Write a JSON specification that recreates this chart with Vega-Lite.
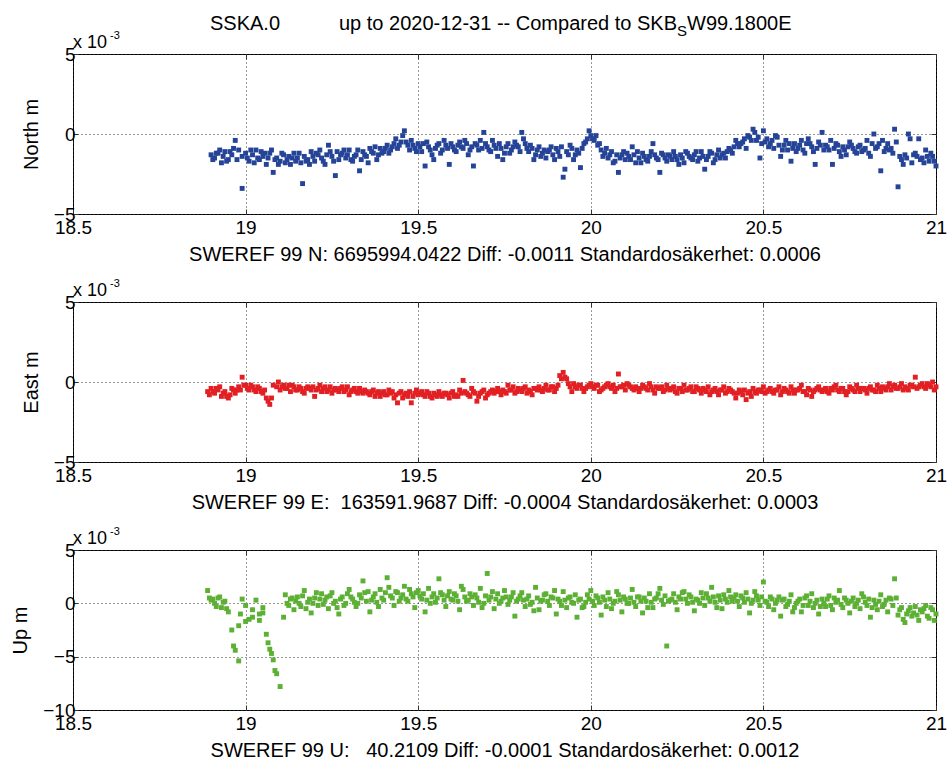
{
"$schema": "https://vega.github.io/schema/vega-lite/v6.json",
"padding": {"left": 10, "top": 13, "right": 0, "bottom": 0},
"background": "white",
"config": {
 "font": "Liberation Sans",
 "view": {"stroke": "#000", "strokeWidth": 1},
 "axis": {"domain": false, "grid": true, "gridColor": "#333", "gridDash": [1, 3], "gridWidth": 1, "tickColor": "#333", "tickSize": -5, "labelFontSize": 19, "labelColor": "#000", "labelFont": "Liberation Sans", "titleFont": "Liberation Sans", "titleFontSize": 20, "titleFontWeight": "normal", "titleColor": "#000", "labelFlush": false, "labelOverlap": false, "format": "~r"},
 "axisX": {"labelPadding": 9, "titlePadding": 7},
 "axisY": {"labelPadding": 3, "titlePadding": 12}
},
"datasets": {
 "one": [{}],
 "north": [
{"t":18.90,"v":-1.3},{"t":18.91,"v":-1.5},{"t":18.92,"v":-1.2},{"t":18.93,"v":-1.8},{"t":18.94,"v":-1.1},{"t":18.95,"v":-1.6},{"t":18.96,"v":-1.3},{"t":18.97,"v":-0.4},{"t":18.98,"v":-1.0},{"t":18.99,"v":-1.4},
{"t":19.00,"v":-1.2},{"t":19.01,"v":-1.7},{"t":19.02,"v":-1.3},{"t":19.03,"v":-1.0},{"t":19.04,"v":-1.6},{"t":19.05,"v":-1.4},{"t":19.06,"v":-1.9},{"t":19.07,"v":-1.2},{"t":19.08,"v":-2.4},{"t":19.09,"v":-1.5},
{"t":19.10,"v":-1.7},{"t":19.11,"v":-1.3},{"t":19.12,"v":-1.6},{"t":19.13,"v":-1.9},{"t":19.14,"v":-1.2},{"t":19.15,"v":-1.5},{"t":19.16,"v":-1.8},{"t":19.17,"v":-1.4},{"t":19.18,"v":-1.6},{"t":19.19,"v":-1.1},
{"t":19.20,"v":-1.7},{"t":19.21,"v":-1.3},{"t":19.22,"v":-1.5},{"t":19.23,"v":-1.9},{"t":19.24,"v":-0.7},{"t":19.25,"v":-1.4},{"t":19.26,"v":-2.6},{"t":19.27,"v":-1.6},{"t":19.28,"v":-1.2},{"t":19.29,"v":-1.5},
{"t":19.30,"v":-1.0},{"t":19.31,"v":-1.7},{"t":19.32,"v":-1.3},{"t":19.33,"v":-2.3},{"t":19.34,"v":-1.1},{"t":19.35,"v":-1.4},{"t":19.36,"v":-0.9},{"t":19.37,"v":-1.2},{"t":19.38,"v":-1.6},{"t":19.39,"v":-0.9},
{"t":19.40,"v":-1.1},{"t":19.41,"v":-0.7},{"t":19.42,"v":-1.0},{"t":19.43,"v":-0.6},{"t":19.44,"v":-0.9},{"t":19.45,"v":-0.5},{"t":19.46,"v":0.2},{"t":19.47,"v":-0.7},{"t":19.48,"v":-0.4},{"t":19.49,"v":-0.9},
{"t":19.50,"v":-0.6},{"t":19.51,"v":-1.1},{"t":19.52,"v":-2.0},{"t":19.53,"v":-0.8},{"t":19.54,"v":-1.3},{"t":19.55,"v":-0.9},{"t":19.56,"v":-0.6},{"t":19.57,"v":-1.0},{"t":19.58,"v":-0.7},{"t":19.59,"v":-1.9},
{"t":19.60,"v":-0.8},{"t":19.61,"v":-1.1},{"t":19.62,"v":-0.5},{"t":19.63,"v":-0.9},{"t":19.64,"v":-0.6},{"t":19.65,"v":-1.0},{"t":19.66,"v":-2.0},{"t":19.67,"v":-0.7},{"t":19.68,"v":-0.4},{"t":19.69,"v":0.1},
{"t":19.70,"v":-0.8},{"t":19.71,"v":-1.1},{"t":19.72,"v":-0.7},{"t":19.73,"v":-1.4},{"t":19.74,"v":-0.9},{"t":19.75,"v":-1.2},{"t":19.76,"v":-0.6},{"t":19.77,"v":-1.0},{"t":19.78,"v":-0.5},{"t":19.79,"v":-0.8},
{"t":19.80,"v":0.1},{"t":19.81,"v":-0.6},{"t":19.82,"v":-1.1},{"t":19.83,"v":-0.9},{"t":19.84,"v":-1.3},{"t":19.85,"v":-0.8},{"t":19.86,"v":-1.2},{"t":19.87,"v":-1.5},{"t":19.88,"v":-1.0},{"t":19.89,"v":-1.3},
{"t":19.90,"v":-0.9},{"t":19.91,"v":-1.4},{"t":19.92,"v":-2.7},{"t":19.93,"v":-1.1},{"t":19.94,"v":-0.7},{"t":19.95,"v":-1.6},{"t":19.96,"v":-1.0},{"t":19.97,"v":-2.1},{"t":19.98,"v":-0.6},{"t":19.99,"v":-0.3},
{"t":20.00,"v":-0.1},{"t":20.01,"v":-0.4},{"t":20.02,"v":-0.7},{"t":20.03,"v":-1.0},{"t":20.04,"v":-1.2},{"t":20.05,"v":-1.5},{"t":20.06,"v":-1.1},{"t":20.07,"v":-1.7},{"t":20.08,"v":-2.4},{"t":20.09,"v":-1.3},
{"t":20.10,"v":-1.6},{"t":20.11,"v":-1.4},{"t":20.12,"v":-0.8},{"t":20.13,"v":-1.8},{"t":20.14,"v":-1.5},{"t":20.15,"v":-1.2},{"t":20.16,"v":-1.6},{"t":20.17,"v":-1.4},{"t":20.18,"v":-0.6},{"t":20.19,"v":-1.5},
{"t":20.20,"v":-2.4},{"t":20.21,"v":-1.3},{"t":20.22,"v":-1.7},{"t":20.23,"v":-1.4},{"t":20.24,"v":-1.1},{"t":20.25,"v":-1.6},{"t":20.26,"v":-1.3},{"t":20.27,"v":-1.8},{"t":20.28,"v":-1.2},{"t":20.29,"v":-1.5},
{"t":20.30,"v":-1.3},{"t":20.31,"v":-1.7},{"t":20.32,"v":-1.1},{"t":20.33,"v":-2.2},{"t":20.34,"v":-1.4},{"t":20.35,"v":-1.2},{"t":20.36,"v":-1.6},{"t":20.37,"v":-1.0},{"t":20.38,"v":-1.3},{"t":20.39,"v":-1.5},
{"t":20.40,"v":-0.9},{"t":20.41,"v":-1.2},{"t":20.42,"v":-0.4},{"t":20.43,"v":-0.8},{"t":20.44,"v":-0.5},{"t":20.45,"v":-0.9},{"t":20.46,"v":-0.2},{"t":20.47,"v":0.3},{"t":20.48,"v":-0.4},{"t":20.49,"v":-1.5},
{"t":20.50,"v":0.2},{"t":20.51,"v":-0.3},{"t":20.52,"v":-0.6},{"t":20.53,"v":-0.9},{"t":20.54,"v":-0.2},{"t":20.55,"v":-1.4},{"t":20.56,"v":-0.7},{"t":20.57,"v":-1.0},{"t":20.58,"v":-1.7},{"t":20.59,"v":-0.6},
{"t":20.60,"v":-0.9},{"t":20.61,"v":-0.4},{"t":20.62,"v":-1.2},{"t":20.63,"v":-0.3},{"t":20.64,"v":-0.8},{"t":20.65,"v":-1.9},{"t":20.66,"v":-0.5},{"t":20.67,"v":0.1},{"t":20.68,"v":-0.7},{"t":20.69,"v":-1.0},
{"t":20.70,"v":-1.9},{"t":20.71,"v":-0.6},{"t":20.72,"v":-1.1},{"t":20.73,"v":-0.8},{"t":20.74,"v":-1.3},{"t":20.75,"v":-0.5},{"t":20.76,"v":-0.9},{"t":20.77,"v":-1.2},{"t":20.78,"v":-0.7},{"t":20.79,"v":-1.0},
{"t":20.80,"v":-0.4},{"t":20.81,"v":-1.4},{"t":20.82,"v":0.0},{"t":20.83,"v":-0.8},{"t":20.84,"v":-2.3},{"t":20.85,"v":-1.1},{"t":20.86,"v":-0.6},{"t":20.87,"v":-0.9},{"t":20.88,"v":0.3},{"t":20.89,"v":-3.3},
{"t":20.90,"v":-1.6},{"t":20.91,"v":-1.3},{"t":20.92,"v":0.0},{"t":20.93,"v":-1.8},{"t":20.94,"v":-1.2},{"t":20.95,"v":-0.3},{"t":20.96,"v":-1.5},{"t":20.97,"v":-1.0},{"t":20.98,"v":-1.7},{"t":20.99,"v":-1.4},{"t":21.00,"v":-2.0},
{"t":18.905,"v":-1.6},{"t":18.915,"v":-1.2},{"t":18.925,"v":-1.0},{"t":18.945,"v":-1.7},{"t":18.965,"v":-0.9},{"t":18.99,"v":-3.4},{"t":19.015,"v":-1.0},{"t":19.035,"v":-1.5},{"t":19.055,"v":-1.2},{"t":19.095,"v":-1.9},
{"t":19.125,"v":-1.4},{"t":19.165,"v":-3.1},{"t":19.185,"v":-1.9},{"t":19.215,"v":-1.0},{"t":19.265,"v":-1.1},{"t":19.305,"v":-1.6},{"t":19.355,"v":-1.8},{"t":19.375,"v":-0.8},{"t":19.415,"v":-1.2},{"t":19.435,"v":-0.3},
{"t":19.455,"v":-0.1},{"t":19.475,"v":-1.0},{"t":19.525,"v":-0.5},{"t":19.545,"v":-1.6},{"t":19.575,"v":-0.4},{"t":19.615,"v":-0.7},{"t":19.645,"v":-1.3},{"t":19.685,"v":-0.9},{"t":19.715,"v":-0.4},{"t":19.745,"v":-1.6},
{"t":19.775,"v":-0.8},{"t":19.805,"v":-0.3},{"t":19.835,"v":-1.6},{"t":19.865,"v":-1.0},{"t":19.895,"v":-1.6},{"t":19.925,"v":-2.2},{"t":19.955,"v":-1.3},{"t":19.975,"v":-0.9},{"t":19.995,"v":0.2},{"t":20.015,"v":-0.1},
{"t":20.035,"v":-1.4},{"t":20.065,"v":-1.8},{"t":20.105,"v":-1.2},{"t":20.145,"v":-1.8},{"t":20.175,"v":-1.1},{"t":20.215,"v":-1.5},{"t":20.255,"v":-1.9},{"t":20.285,"v":-1.4},{"t":20.315,"v":-1.5},{"t":20.355,"v":-1.8},
{"t":20.395,"v":-1.1},{"t":20.425,"v":-0.6},{"t":20.455,"v":-0.1},{"t":20.475,"v":0.1},{"t":20.505,"v":-0.5},{"t":20.535,"v":-0.1},{"t":20.565,"v":-0.4},{"t":20.595,"v":-1.1},{"t":20.625,"v":-0.6},{"t":20.655,"v":-0.9},
{"t":20.695,"v":-0.4},{"t":20.725,"v":-1.4},{"t":20.755,"v":-0.7},{"t":20.785,"v":-1.1},{"t":20.815,"v":-0.6},{"t":20.845,"v":-0.4},{"t":20.875,"v":-1.2},{"t":20.905,"v":-1.9},{"t":20.925,"v":-0.3},{"t":20.945,"v":-1.4},
{"t":20.965,"v":-1.8},{"t":20.985,"v":-1.2},
{"t":18.935,"v":-1.4},{"t":18.955,"v":-1.1},{"t":18.975,"v":-1.6},{"t":19.005,"v":-1.5},{"t":19.025,"v":-1.8},{"t":19.045,"v":-1.1},{"t":19.065,"v":-1.5},{"t":19.075,"v":-1.0},{"t":19.085,"v":-1.6},{"t":19.105,"v":-1.2},
{"t":19.115,"v":-1.8},{"t":19.135,"v":-1.5},{"t":19.145,"v":-1.7},{"t":19.155,"v":-1.2},{"t":19.175,"v":-1.7},{"t":19.195,"v":-1.4},{"t":19.205,"v":-1.2},{"t":19.225,"v":-1.7},{"t":19.235,"v":-1.3},{"t":19.245,"v":-1.1},
{"t":19.255,"v":-1.7},{"t":19.275,"v":-1.3},{"t":19.285,"v":-1.0},{"t":19.295,"v":-1.3},{"t":19.315,"v":-1.4},{"t":19.325,"v":-1.0},{"t":19.335,"v":-1.6},{"t":19.345,"v":-1.3},{"t":19.365,"v":-1.1},{"t":19.385,"v":-1.3},
{"t":19.395,"v":-1.2},{"t":19.405,"v":-0.9},{"t":19.425,"v":-0.8},{"t":19.445,"v":-0.7},{"t":19.465,"v":-0.5},{"t":19.485,"v":-0.7},{"t":19.495,"v":-1.1},{"t":19.505,"v":-0.8},{"t":19.515,"v":-0.6},{"t":19.535,"v":-1.0},
{"t":19.555,"v":-0.7},{"t":19.565,"v":-1.2},{"t":19.585,"v":-0.9},{"t":19.595,"v":-0.6},{"t":19.605,"v":-1.0},{"t":19.625,"v":-0.8},{"t":19.635,"v":-0.4},{"t":19.655,"v":-0.8},{"t":19.665,"v":-0.6},{"t":19.675,"v":-1.0},
{"t":19.695,"v":-0.6},{"t":19.705,"v":-1.0},{"t":19.725,"v":-0.9},{"t":19.735,"v":-0.6},{"t":19.755,"v":-0.8},{"t":19.765,"v":-1.2},{"t":19.785,"v":-0.7},{"t":19.795,"v":-1.1},{"t":19.815,"v":-0.9},{"t":19.825,"v":-0.7},
{"t":19.845,"v":-1.0},{"t":19.855,"v":-1.4},{"t":19.875,"v":-1.1},{"t":19.885,"v":-0.8},{"t":19.905,"v":-1.1},{"t":19.915,"v":-0.8},{"t":19.935,"v":-1.3},{"t":19.945,"v":-0.9},{"t":19.965,"v":-1.2},{"t":19.985,"v":-0.5},
{"t":20.005,"v":-0.3},{"t":20.025,"v":-0.6},{"t":20.045,"v":-0.9},{"t":20.055,"v":-1.3},{"t":20.075,"v":-1.3},{"t":20.085,"v":-1.5},{"t":20.095,"v":-1.1},{"t":20.115,"v":-1.6},{"t":20.125,"v":-1.3},{"t":20.135,"v":-1.1},
{"t":20.155,"v":-1.4},{"t":20.165,"v":-1.7},{"t":20.185,"v":-1.3},{"t":20.195,"v":-1.6},{"t":20.205,"v":-1.2},{"t":20.225,"v":-1.3},{"t":20.235,"v":-1.6},{"t":20.245,"v":-1.4},{"t":20.265,"v":-1.5},{"t":20.275,"v":-1.1},
{"t":20.295,"v":-1.6},{"t":20.305,"v":-1.1},{"t":20.325,"v":-1.4},{"t":20.335,"v":-1.6},{"t":20.345,"v":-1.1},{"t":20.365,"v":-1.3},{"t":20.375,"v":-1.5},{"t":20.385,"v":-1.2},{"t":20.405,"v":-1.0},{"t":20.415,"v":-0.8},
{"t":20.435,"v":-0.6},{"t":20.445,"v":-0.3},{"t":20.465,"v":-0.4},{"t":20.485,"v":-0.2},{"t":20.495,"v":-0.6},{"t":20.515,"v":-0.8},{"t":20.525,"v":-0.4},{"t":20.545,"v":-0.7},{"t":20.555,"v":-1.0},{"t":20.575,"v":-0.6},
{"t":20.585,"v":-0.9},{"t":20.605,"v":-0.7},{"t":20.615,"v":-1.0},{"t":20.635,"v":-0.6},{"t":20.645,"v":-1.1},{"t":20.665,"v":-0.7},{"t":20.675,"v":-1.0},{"t":20.685,"v":-0.8},{"t":20.705,"v":-0.9},{"t":20.715,"v":-0.7},
{"t":20.735,"v":-1.0},{"t":20.745,"v":-0.8},{"t":20.765,"v":-1.1},{"t":20.775,"v":-0.8},{"t":20.795,"v":-0.9},{"t":20.805,"v":-1.2},{"t":20.825,"v":-0.9},{"t":20.835,"v":-0.6},{"t":20.855,"v":-0.9},{"t":20.865,"v":-1.0},
{"t":20.885,"v":-0.5},{"t":20.895,"v":-1.4},{"t":20.915,"v":-1.5},{"t":20.935,"v":-1.3},{"t":20.955,"v":-1.6},{"t":20.975,"v":-1.4},{"t":20.995,"v":-1.7}
 ],
 "east": [
{"t":18.89,"v":-0.6},{"t":18.90,"v":-0.4},{"t":18.91,"v":-0.7},{"t":18.92,"v":-0.5},{"t":18.93,"v":-0.9},{"t":18.94,"v":-0.6},{"t":18.95,"v":-1.0},{"t":18.96,"v":-0.4},{"t":18.97,"v":-0.7},{"t":18.98,"v":-0.3},{"t":18.99,"v":0.3},
{"t":19.00,"v":-0.2},{"t":19.01,"v":-0.5},{"t":19.02,"v":-0.3},{"t":19.03,"v":-0.6},{"t":19.04,"v":-0.4},{"t":19.05,"v":-0.7},{"t":19.06,"v":-1.0},{"t":19.07,"v":-1.4},{"t":19.08,"v":-0.2},{"t":19.09,"v":-0.3},
{"t":19.10,"v":-0.5},{"t":19.11,"v":-0.2},{"t":19.12,"v":-0.4},{"t":19.13,"v":-0.6},{"t":19.14,"v":-0.3},{"t":19.15,"v":-0.5},{"t":19.16,"v":-0.4},{"t":19.17,"v":-0.7},{"t":19.18,"v":-0.3},{"t":19.19,"v":-0.5},
{"t":19.20,"v":-0.9},{"t":19.21,"v":-0.4},{"t":19.22,"v":-0.6},{"t":19.23,"v":-0.3},{"t":19.24,"v":-0.5},{"t":19.25,"v":-0.7},{"t":19.26,"v":-0.4},{"t":19.27,"v":-0.6},{"t":19.28,"v":-0.3},{"t":19.29,"v":-0.5},
{"t":19.30,"v":-0.8},{"t":19.31,"v":-0.5},{"t":19.32,"v":-0.6},{"t":19.33,"v":-0.4},{"t":19.34,"v":-0.7},{"t":19.35,"v":-0.6},{"t":19.36,"v":-0.8},{"t":19.37,"v":-0.5},{"t":19.38,"v":-0.7},{"t":19.39,"v":-0.9},
{"t":19.40,"v":-0.6},{"t":19.41,"v":-0.8},{"t":19.42,"v":-0.7},{"t":19.43,"v":-1.0},{"t":19.44,"v":-1.3},{"t":19.45,"v":-0.6},{"t":19.46,"v":-0.8},{"t":19.47,"v":-0.9},{"t":19.48,"v":-1.3},{"t":19.49,"v":-0.7},
{"t":19.50,"v":-0.8},{"t":19.51,"v":-0.6},{"t":19.52,"v":-0.9},{"t":19.53,"v":-0.7},{"t":19.54,"v":-1.0},{"t":19.55,"v":-0.8},{"t":19.56,"v":-0.6},{"t":19.57,"v":-0.9},{"t":19.58,"v":-0.7},{"t":19.59,"v":-1.0},
{"t":19.60,"v":-0.6},{"t":19.61,"v":-0.8},{"t":19.62,"v":-0.5},{"t":19.63,"v":0.1},{"t":19.64,"v":-0.7},{"t":19.65,"v":-0.9},{"t":19.66,"v":-0.6},{"t":19.67,"v":-1.2},{"t":19.68,"v":-0.7},{"t":19.69,"v":-0.5},
{"t":19.70,"v":-0.8},{"t":19.71,"v":-0.6},{"t":19.72,"v":-0.7},{"t":19.73,"v":-0.4},{"t":19.74,"v":-0.8},{"t":19.75,"v":-0.6},{"t":19.76,"v":-0.2},{"t":19.77,"v":-0.5},{"t":19.78,"v":-0.7},{"t":19.79,"v":-0.4},
{"t":19.80,"v":-0.6},{"t":19.81,"v":-0.3},{"t":19.82,"v":-0.5},{"t":19.83,"v":-0.8},{"t":19.84,"v":-0.4},{"t":19.85,"v":-0.3},{"t":19.86,"v":-0.6},{"t":19.87,"v":-0.2},{"t":19.88,"v":-0.5},{"t":19.89,"v":-0.3},
{"t":19.90,"v":-0.4},{"t":19.91,"v":0.4},{"t":19.92,"v":0.6},{"t":19.93,"v":0.2},{"t":19.94,"v":-0.3},{"t":19.95,"v":-0.1},{"t":19.96,"v":-0.4},{"t":19.97,"v":-0.2},{"t":19.98,"v":-0.6},{"t":19.99,"v":-0.3},
{"t":20.00,"v":-0.1},{"t":20.01,"v":-0.4},{"t":20.02,"v":-0.2},{"t":20.03,"v":-0.5},{"t":20.04,"v":-0.3},{"t":20.05,"v":-0.1},{"t":20.06,"v":-0.4},{"t":20.07,"v":-0.6},{"t":20.08,"v":0.5},{"t":20.09,"v":-0.3},
{"t":20.10,"v":-0.5},{"t":20.11,"v":-0.2},{"t":20.12,"v":-0.4},{"t":20.13,"v":-0.3},{"t":20.14,"v":-0.6},{"t":20.15,"v":-0.2},{"t":20.16,"v":-0.4},{"t":20.17,"v":-0.1},{"t":20.18,"v":-0.5},{"t":20.19,"v":-0.3},
{"t":20.20,"v":-0.4},{"t":20.21,"v":-0.6},{"t":20.22,"v":-0.2},{"t":20.23,"v":-0.5},{"t":20.24,"v":-0.3},{"t":20.25,"v":-0.7},{"t":20.26,"v":-0.4},{"t":20.27,"v":-0.2},{"t":20.28,"v":-0.5},{"t":20.29,"v":-0.3},
{"t":20.30,"v":-0.6},{"t":20.31,"v":-0.4},{"t":20.32,"v":-0.7},{"t":20.33,"v":-0.5},{"t":20.34,"v":-0.3},{"t":20.35,"v":-0.6},{"t":20.36,"v":-0.4},{"t":20.37,"v":-0.8},{"t":20.38,"v":-0.5},{"t":20.39,"v":-0.7},
{"t":20.40,"v":-0.4},{"t":20.41,"v":-0.6},{"t":20.42,"v":-1.0},{"t":20.43,"v":-0.5},{"t":20.44,"v":-0.8},{"t":20.45,"v":-1.1},{"t":20.46,"v":-0.6},{"t":20.47,"v":-0.4},{"t":20.48,"v":-0.7},{"t":20.49,"v":-0.5},
{"t":20.50,"v":-0.3},{"t":20.51,"v":-0.6},{"t":20.52,"v":-0.4},{"t":20.53,"v":-0.7},{"t":20.54,"v":-0.5},{"t":20.55,"v":-0.8},{"t":20.56,"v":-0.4},{"t":20.57,"v":-0.6},{"t":20.58,"v":-0.3},{"t":20.59,"v":-0.7},
{"t":20.60,"v":-0.5},{"t":20.61,"v":-0.2},{"t":20.62,"v":-0.6},{"t":20.63,"v":-0.4},{"t":20.64,"v":-0.9},{"t":20.65,"v":-0.5},{"t":20.66,"v":-0.3},{"t":20.67,"v":-0.6},{"t":20.68,"v":-0.4},{"t":20.69,"v":-0.7},
{"t":20.70,"v":-0.5},{"t":20.71,"v":-0.2},{"t":20.72,"v":-0.6},{"t":20.73,"v":-0.4},{"t":20.74,"v":-0.8},{"t":20.75,"v":-0.3},{"t":20.76,"v":-0.5},{"t":20.77,"v":-0.2},{"t":20.78,"v":-0.6},{"t":20.79,"v":-0.4},
{"t":20.80,"v":-0.7},{"t":20.81,"v":-0.3},{"t":20.82,"v":-0.5},{"t":20.83,"v":-0.2},{"t":20.84,"v":-0.6},{"t":20.85,"v":-0.4},{"t":20.86,"v":-0.3},{"t":20.87,"v":-0.5},{"t":20.88,"v":-0.2},{"t":20.89,"v":-0.4},
{"t":20.90,"v":-0.1},{"t":20.91,"v":-0.3},{"t":20.92,"v":-0.5},{"t":20.93,"v":-0.2},{"t":20.94,"v":0.3},{"t":20.95,"v":-0.3},{"t":20.96,"v":-0.1},{"t":20.97,"v":-0.4},{"t":20.98,"v":-0.2},{"t":20.99,"v":0.0},{"t":21.00,"v":-0.3},
{"t":18.895,"v":-0.8},{"t":18.925,"v":-0.3},{"t":18.955,"v":-0.8},{"t":18.985,"v":-0.5},{"t":19.015,"v":-0.2},{"t":19.045,"v":-0.6},{"t":19.065,"v":-1.2},{"t":19.075,"v":-1.0},{"t":19.095,"v":0.0},{"t":19.135,"v":-0.2},
{"t":19.175,"v":-0.4},{"t":19.215,"v":-0.2},{"t":19.255,"v":-0.5},{"t":19.295,"v":-0.3},{"t":19.335,"v":-0.6},{"t":19.375,"v":-0.9},{"t":19.415,"v":-0.5},{"t":19.455,"v":-1.0},{"t":19.495,"v":-0.5},{"t":19.535,"v":-0.9},
{"t":19.575,"v":-0.7},{"t":19.615,"v":-0.9},{"t":19.655,"v":-0.4},{"t":19.695,"v":-1.0},{"t":19.735,"v":-0.6},{"t":19.775,"v":-0.3},{"t":19.815,"v":-0.7},{"t":19.855,"v":-0.5},{"t":19.895,"v":-0.6},{"t":19.915,"v":0.2},
{"t":19.945,"v":-0.6},{"t":19.985,"v":-0.4},{"t":20.025,"v":-0.6},{"t":20.065,"v":-0.2},{"t":20.105,"v":-0.1},{"t":20.145,"v":-0.4},{"t":20.185,"v":-0.7},{"t":20.225,"v":-0.4},{"t":20.265,"v":-0.6},{"t":20.305,"v":-0.3},
{"t":20.345,"v":-0.8},{"t":20.385,"v":-0.3},{"t":20.425,"v":-0.7},{"t":20.465,"v":-0.9},{"t":20.505,"v":-0.7},{"t":20.545,"v":-0.3},{"t":20.585,"v":-0.5},{"t":20.625,"v":-0.8},{"t":20.665,"v":-0.5},{"t":20.705,"v":-0.3},
{"t":20.745,"v":-0.6},{"t":20.785,"v":-0.4},{"t":20.825,"v":-0.6},{"t":20.865,"v":-0.1},{"t":20.905,"v":-0.5},{"t":20.945,"v":-0.4},{"t":20.975,"v":-0.1},{"t":20.995,"v":-0.5},
{"t":18.905,"v":-0.6},{"t":18.915,"v":-0.4},{"t":18.935,"v":-0.7},{"t":18.945,"v":-0.9},{"t":18.965,"v":-0.5},{"t":18.975,"v":-0.5},{"t":18.995,"v":-0.2},{"t":19.005,"v":-0.4},{"t":19.025,"v":-0.5},{"t":19.035,"v":-0.3},
{"t":19.055,"v":-0.5},{"t":19.105,"v":-0.3},{"t":19.115,"v":-0.4},{"t":19.125,"v":-0.2},{"t":19.145,"v":-0.5},{"t":19.155,"v":-0.3},{"t":19.165,"v":-0.6},{"t":19.185,"v":-0.4},{"t":19.195,"v":-0.3},{"t":19.205,"v":-0.5},
{"t":19.225,"v":-0.4},{"t":19.235,"v":-0.6},{"t":19.245,"v":-0.3},{"t":19.265,"v":-0.5},{"t":19.275,"v":-0.4},{"t":19.285,"v":-0.6},{"t":19.305,"v":-0.6},{"t":19.315,"v":-0.4},{"t":19.325,"v":-0.7},{"t":19.345,"v":-0.5},
{"t":19.355,"v":-0.7},{"t":19.365,"v":-0.6},{"t":19.385,"v":-0.6},{"t":19.395,"v":-0.7},{"t":19.405,"v":-0.8},{"t":19.425,"v":-0.6},{"t":19.435,"v":-0.8},{"t":19.445,"v":-0.7},{"t":19.465,"v":-0.7},{"t":19.475,"v":-0.6},
{"t":19.485,"v":-0.9},{"t":19.505,"v":-0.7},{"t":19.515,"v":-0.8},{"t":19.525,"v":-0.6},{"t":19.545,"v":-0.7},{"t":19.555,"v":-0.9},{"t":19.565,"v":-0.8},{"t":19.585,"v":-0.8},{"t":19.595,"v":-0.7},{"t":19.605,"v":-0.9},
{"t":19.625,"v":-0.7},{"t":19.635,"v":-0.6},{"t":19.645,"v":-0.8},{"t":19.665,"v":-0.7},{"t":19.675,"v":-0.9},{"t":19.685,"v":-0.6},{"t":19.705,"v":-0.7},{"t":19.715,"v":-0.5},{"t":19.725,"v":-0.6},{"t":19.745,"v":-0.5},
{"t":19.755,"v":-0.7},{"t":19.765,"v":-0.5},{"t":19.785,"v":-0.6},{"t":19.795,"v":-0.5},{"t":19.805,"v":-0.4},{"t":19.825,"v":-0.6},{"t":19.835,"v":-0.4},{"t":19.845,"v":-0.5},{"t":19.865,"v":-0.4},{"t":19.875,"v":-0.5},
{"t":19.885,"v":-0.3},{"t":19.905,"v":-0.2},{"t":19.925,"v":0.3},{"t":19.935,"v":-0.1},{"t":19.955,"v":-0.3},{"t":19.965,"v":-0.2},{"t":19.975,"v":-0.4},{"t":19.995,"v":-0.2},{"t":20.005,"v":-0.3},{"t":20.015,"v":-0.2},
{"t":20.035,"v":-0.4},{"t":20.045,"v":-0.2},{"t":20.055,"v":-0.3},{"t":20.075,"v":-0.4},{"t":20.085,"v":-0.3},{"t":20.095,"v":-0.2},{"t":20.115,"v":-0.3},{"t":20.125,"v":-0.5},{"t":20.135,"v":-0.4},{"t":20.155,"v":-0.3},
{"t":20.165,"v":-0.5},{"t":20.175,"v":-0.3},{"t":20.195,"v":-0.4},{"t":20.205,"v":-0.3},{"t":20.215,"v":-0.5},{"t":20.235,"v":-0.4},{"t":20.245,"v":-0.6},{"t":20.255,"v":-0.4},{"t":20.275,"v":-0.5},{"t":20.285,"v":-0.4},
{"t":20.295,"v":-0.6},{"t":20.315,"v":-0.5},{"t":20.325,"v":-0.4},{"t":20.335,"v":-0.6},{"t":20.355,"v":-0.5},{"t":20.365,"v":-0.6},{"t":20.375,"v":-0.5},{"t":20.395,"v":-0.6},{"t":20.405,"v":-0.5},{"t":20.415,"v":-0.7},
{"t":20.435,"v":-0.6},{"t":20.445,"v":-0.5},{"t":20.455,"v":-0.7},{"t":20.475,"v":-0.6},{"t":20.485,"v":-0.5},{"t":20.495,"v":-0.6},{"t":20.515,"v":-0.5},{"t":20.525,"v":-0.6},{"t":20.535,"v":-0.5},{"t":20.555,"v":-0.6},
{"t":20.565,"v":-0.5},{"t":20.575,"v":-0.7},{"t":20.595,"v":-0.5},{"t":20.605,"v":-0.4},{"t":20.615,"v":-0.6},{"t":20.635,"v":-0.5},{"t":20.645,"v":-0.6},{"t":20.655,"v":-0.4},{"t":20.675,"v":-0.5},{"t":20.685,"v":-0.6},
{"t":20.695,"v":-0.4},{"t":20.715,"v":-0.5},{"t":20.725,"v":-0.4},{"t":20.735,"v":-0.6},{"t":20.755,"v":-0.4},{"t":20.765,"v":-0.6},{"t":20.775,"v":-0.4},{"t":20.795,"v":-0.5},{"t":20.805,"v":-0.4},{"t":20.815,"v":-0.5},
{"t":20.835,"v":-0.4},{"t":20.845,"v":-0.3},{"t":20.855,"v":-0.5},{"t":20.875,"v":-0.3},{"t":20.885,"v":-0.4},{"t":20.895,"v":-0.3},{"t":20.915,"v":-0.4},{"t":20.925,"v":-0.2},{"t":20.935,"v":-0.3},{"t":20.955,"v":-0.2},
{"t":20.965,"v":-0.3},{"t":20.985,"v":-0.3}
 ],
 "up": [
{"t":18.89,"v":1.2},{"t":18.90,"v":0.3},{"t":18.91,"v":0.0},{"t":18.92,"v":0.5},{"t":18.93,"v":-0.4},{"t":18.94,"v":0.2},{"t":18.95,"v":-0.8},{"t":18.96,"v":-2.5},{"t":18.965,"v":-4.0},{"t":18.97,"v":-4.4},{"t":18.98,"v":-5.4},
{"t":18.985,"v":-1.0},{"t":18.99,"v":0.4},{"t":19.00,"v":-0.2},{"t":19.01,"v":-1.5},{"t":19.02,"v":-0.6},{"t":19.03,"v":0.3},{"t":19.04,"v":-1.0},{"t":19.05,"v":-0.4},
{"t":18.98,"v":-2.1},{"t":19.00,"v":-1.7},{"t":19.02,"v":-1.3},{"t":19.04,"v":-1.6},{"t":19.05,"v":-0.9},
{"t":19.06,"v":-2.9},{"t":19.065,"v":-3.7},{"t":19.07,"v":-4.3},{"t":19.075,"v":-4.7},{"t":19.08,"v":-5.3},{"t":19.085,"v":-6.3},{"t":19.09,"v":-6.6},{"t":19.10,"v":-7.8},
{"t":19.11,"v":-1.3},{"t":19.12,"v":0.0},{"t":19.13,"v":0.4},{"t":19.14,"v":-0.6},{"t":19.15,"v":0.6},{"t":19.16,"v":-0.3},{"t":19.17,"v":1.2},{"t":19.18,"v":0.1},{"t":19.19,"v":-0.9},
{"t":19.20,"v":0.5},{"t":19.21,"v":-0.2},{"t":19.22,"v":0.9},{"t":19.23,"v":0.3},{"t":19.24,"v":-0.5},{"t":19.25,"v":1.0},{"t":19.26,"v":0.2},{"t":19.27,"v":-1.0},{"t":19.28,"v":0.6},{"t":19.29,"v":0.0},
{"t":19.30,"v":1.3},{"t":19.31,"v":0.4},{"t":19.32,"v":-0.3},{"t":19.33,"v":0.8},{"t":19.34,"v":2.1},{"t":19.35,"v":0.2},{"t":19.36,"v":-0.8},{"t":19.37,"v":0.6},{"t":19.38,"v":0.1},{"t":19.39,"v":1.3},
{"t":19.40,"v":0.3},{"t":19.41,"v":2.4},{"t":19.42,"v":0.7},{"t":19.43,"v":-0.2},{"t":19.44,"v":1.0},{"t":19.45,"v":0.5},{"t":19.46,"v":1.6},{"t":19.47,"v":0.2},{"t":19.48,"v":0.9},{"t":19.49,"v":-0.4},
{"t":19.50,"v":1.2},{"t":19.51,"v":0.4},{"t":19.52,"v":-0.8},{"t":19.53,"v":1.4},{"t":19.54,"v":0.6},{"t":19.55,"v":0.1},{"t":19.56,"v":2.3},{"t":19.57,"v":0.8},{"t":19.58,"v":-0.3},{"t":19.59,"v":1.1},
{"t":19.60,"v":0.3},{"t":19.61,"v":0.7},{"t":19.62,"v":-0.6},{"t":19.63,"v":1.3},{"t":19.64,"v":0.2},{"t":19.65,"v":0.9},{"t":19.66,"v":-0.2},{"t":19.67,"v":0.5},{"t":19.68,"v":1.4},{"t":19.69,"v":0.0},
{"t":19.70,"v":2.8},{"t":19.71,"v":0.6},{"t":19.72,"v":-0.5},{"t":19.73,"v":0.9},{"t":19.74,"v":0.2},{"t":19.75,"v":1.2},{"t":19.76,"v":-0.1},{"t":19.77,"v":0.6},{"t":19.78,"v":-1.2},{"t":19.79,"v":0.4},
{"t":19.80,"v":1.0},{"t":19.81,"v":-0.3},{"t":19.82,"v":0.7},{"t":19.83,"v":0.1},{"t":19.84,"v":1.5},{"t":19.85,"v":-0.6},{"t":19.86,"v":0.3},{"t":19.87,"v":0.9},{"t":19.88,"v":-0.2},{"t":19.89,"v":0.5},
{"t":19.90,"v":-1.0},{"t":19.91,"v":0.2},{"t":19.92,"v":1.1},{"t":19.93,"v":-0.4},{"t":19.94,"v":0.6},{"t":19.95,"v":0.0},{"t":19.96,"v":-1.3},{"t":19.97,"v":0.4},{"t":19.98,"v":-0.3},{"t":19.99,"v":0.8},
{"t":20.00,"v":1.2},{"t":20.01,"v":-0.2},{"t":20.02,"v":0.5},{"t":20.03,"v":-1.1},{"t":20.04,"v":0.3},{"t":20.05,"v":1.0},{"t":20.06,"v":-0.5},{"t":20.07,"v":0.2},{"t":20.08,"v":0.8},{"t":20.09,"v":-0.8},
{"t":20.10,"v":0.4},{"t":20.11,"v":0.0},{"t":20.12,"v":1.3},{"t":20.13,"v":-0.3},{"t":20.14,"v":0.6},{"t":20.15,"v":-0.9},{"t":20.16,"v":0.2},{"t":20.17,"v":0.9},{"t":20.18,"v":-0.4},{"t":20.19,"v":0.5},
{"t":20.20,"v":1.4},{"t":20.21,"v":-0.1},{"t":20.22,"v":-4.0},{"t":20.23,"v":0.3},{"t":20.24,"v":0.9},{"t":20.25,"v":-0.6},{"t":20.26,"v":0.4},{"t":20.27,"v":1.1},{"t":20.28,"v":0.0},{"t":20.29,"v":0.6},
{"t":20.30,"v":-0.7},{"t":20.31,"v":0.3},{"t":20.32,"v":1.0},{"t":20.33,"v":-0.2},{"t":20.34,"v":0.5},{"t":20.35,"v":1.5},{"t":20.36,"v":0.1},{"t":20.37,"v":0.7},{"t":20.38,"v":-0.5},{"t":20.39,"v":0.4},
{"t":20.40,"v":1.2},{"t":20.41,"v":0.2},{"t":20.42,"v":0.8},{"t":20.43,"v":-0.3},{"t":20.44,"v":0.5},{"t":20.45,"v":1.0},{"t":20.46,"v":-0.9},{"t":20.47,"v":0.3},{"t":20.48,"v":0.7},{"t":20.49,"v":-0.2},
{"t":20.50,"v":2.0},{"t":20.51,"v":0.1},{"t":20.52,"v":0.6},{"t":20.53,"v":-0.6},{"t":20.54,"v":0.3},{"t":20.55,"v":-1.2},{"t":20.56,"v":0.4},{"t":20.57,"v":-0.1},{"t":20.58,"v":0.8},{"t":20.59,"v":-0.4},
{"t":20.60,"v":0.2},{"t":20.61,"v":-0.8},{"t":20.62,"v":0.5},{"t":20.63,"v":-0.2},{"t":20.64,"v":0.9},{"t":20.65,"v":0.0},{"t":20.66,"v":-1.0},{"t":20.67,"v":0.4},{"t":20.68,"v":-0.3},{"t":20.69,"v":0.7},
{"t":20.70,"v":-0.6},{"t":20.71,"v":0.1},{"t":20.72,"v":1.2},{"t":20.73,"v":-0.4},{"t":20.74,"v":0.3},{"t":20.75,"v":-0.9},{"t":20.76,"v":0.5},{"t":20.77,"v":0.0},{"t":20.78,"v":-0.5},{"t":20.79,"v":0.6},
{"t":20.80,"v":-0.2},{"t":20.81,"v":-1.3},{"t":20.82,"v":0.3},{"t":20.83,"v":-0.6},{"t":20.84,"v":0.8},{"t":20.85,"v":-0.1},{"t":20.86,"v":-0.8},{"t":20.87,"v":0.4},{"t":20.88,"v":2.3},{"t":20.89,"v":-1.1},
{"t":20.90,"v":-0.4},{"t":20.91,"v":-1.8},{"t":20.92,"v":-0.7},{"t":20.93,"v":-1.2},{"t":20.94,"v":-0.3},{"t":20.95,"v":-1.6},{"t":20.96,"v":-0.8},{"t":20.97,"v":-0.2},{"t":20.98,"v":-1.4},{"t":20.99,"v":-0.6},{"t":21.00,"v":-1.0},
{"t":18.895,"v":0.5},{"t":18.905,"v":0.4},{"t":18.915,"v":-0.3},{"t":18.925,"v":0.6},{"t":18.935,"v":0.1},{"t":18.945,"v":-0.5},
{"t":19.115,"v":0.8},{"t":19.145,"v":0.2},{"t":19.175,"v":-0.5},{"t":19.205,"v":1.0},{"t":19.235,"v":0.6},{"t":19.265,"v":-0.4},{"t":19.295,"v":0.9},{"t":19.325,"v":0.0},{"t":19.355,"v":1.1},{"t":19.385,"v":-0.3},
{"t":19.415,"v":1.5},{"t":19.445,"v":0.2},{"t":19.475,"v":1.3},{"t":19.505,"v":0.7},{"t":19.535,"v":0.0},{"t":19.565,"v":1.0},{"t":19.595,"v":0.4},{"t":19.625,"v":1.6},{"t":19.655,"v":0.6},{"t":19.685,"v":-0.4},
{"t":19.715,"v":1.1},{"t":19.745,"v":0.5},{"t":19.775,"v":1.0},{"t":19.805,"v":0.3},{"t":19.835,"v":-0.7},{"t":19.865,"v":0.8},{"t":19.895,"v":1.2},{"t":19.925,"v":0.3},{"t":19.955,"v":0.8},{"t":19.985,"v":0.1},
{"t":20.015,"v":0.7},{"t":20.045,"v":-0.3},{"t":20.075,"v":1.1},{"t":20.105,"v":0.0},{"t":20.135,"v":0.6},{"t":20.165,"v":-0.4},{"t":20.195,"v":0.9},{"t":20.235,"v":0.4},{"t":20.265,"v":1.0},{"t":20.295,"v":0.1},
{"t":20.335,"v":0.9},{"t":20.365,"v":-0.4},{"t":20.405,"v":0.6},{"t":20.445,"v":0.1},{"t":20.475,"v":1.1},{"t":20.515,"v":-0.3},{"t":20.545,"v":0.6},{"t":20.585,"v":-0.8},{"t":20.625,"v":0.7},{"t":20.665,"v":-0.3},
{"t":20.705,"v":0.5},{"t":20.745,"v":0.0},{"t":20.785,"v":0.9},{"t":20.825,"v":-0.1},{"t":20.865,"v":0.5},{"t":20.905,"v":-1.5},{"t":20.935,"v":-0.9},{"t":20.965,"v":-0.5},{"t":20.995,"v":-1.6},
{"t":19.125,"v":-0.2},{"t":19.135,"v":0.5},{"t":19.155,"v":0.0},{"t":19.165,"v":0.7},{"t":19.185,"v":0.4},{"t":19.195,"v":0.0},{"t":19.215,"v":0.4},{"t":19.225,"v":-0.1},{"t":19.245,"v":0.7},{"t":19.255,"v":0.0},
{"t":19.275,"v":0.4},{"t":19.285,"v":-0.2},{"t":19.305,"v":0.6},{"t":19.315,"v":0.1},{"t":19.335,"v":0.5},{"t":19.345,"v":1.0},{"t":19.365,"v":0.3},{"t":19.375,"v":0.9},{"t":19.395,"v":0.5},{"t":19.405,"v":1.0},
{"t":19.425,"v":0.5},{"t":19.435,"v":1.1},{"t":19.455,"v":0.8},{"t":19.465,"v":0.4},{"t":19.485,"v":0.6},{"t":19.495,"v":1.0},{"t":19.515,"v":0.9},{"t":19.525,"v":0.3},{"t":19.545,"v":0.9},{"t":19.555,"v":0.5},
{"t":19.575,"v":0.3},{"t":19.585,"v":0.7},{"t":19.605,"v":0.9},{"t":19.615,"v":0.2},{"t":19.635,"v":0.6},{"t":19.645,"v":0.3},{"t":19.665,"v":0.8},{"t":19.675,"v":0.1},{"t":19.695,"v":0.7},{"t":19.705,"v":0.3},
{"t":19.725,"v":0.4},{"t":19.735,"v":0.0},{"t":19.755,"v":0.6},{"t":19.765,"v":0.3},{"t":19.785,"v":0.2},{"t":19.795,"v":0.7},{"t":19.815,"v":0.4},{"t":19.825,"v":-0.1},{"t":19.845,"v":0.5},{"t":19.855,"v":0.2},
{"t":19.875,"v":0.2},{"t":19.885,"v":0.6},{"t":19.905,"v":0.4},{"t":19.915,"v":-0.2},{"t":19.935,"v":0.5},{"t":19.945,"v":0.1},{"t":19.965,"v":0.3},{"t":19.975,"v":-0.4},{"t":19.995,"v":0.4},{"t":20.005,"v":0.2},
{"t":20.025,"v":0.1},{"t":20.035,"v":0.6},{"t":20.055,"v":0.4},{"t":20.065,"v":0.0},{"t":20.085,"v":0.3},{"t":20.095,"v":0.6},{"t":20.115,"v":0.5},{"t":20.125,"v":0.1},{"t":20.145,"v":0.2},{"t":20.155,"v":0.5},
{"t":20.175,"v":0.1},{"t":20.185,"v":0.4},{"t":20.205,"v":0.3},{"t":20.215,"v":0.7},{"t":20.225,"v":0.2},{"t":20.245,"v":0.1},{"t":20.255,"v":0.6},{"t":20.275,"v":0.4},{"t":20.285,"v":0.8},{"t":20.305,"v":0.4},
{"t":20.315,"v":0.0},{"t":20.325,"v":0.5},{"t":20.345,"v":0.2},{"t":20.355,"v":0.6},{"t":20.375,"v":0.3},{"t":20.385,"v":0.8},{"t":20.395,"v":0.1},{"t":20.415,"v":0.5},{"t":20.425,"v":0.2},{"t":20.435,"v":0.7},
{"t":20.455,"v":0.4},{"t":20.465,"v":0.0},{"t":20.485,"v":0.3},{"t":20.495,"v":0.6},{"t":20.505,"v":0.2},{"t":20.525,"v":0.4},{"t":20.535,"v":0.0},{"t":20.555,"v":0.3},{"t":20.565,"v":-0.3},{"t":20.575,"v":0.2},
{"t":20.595,"v":0.0},{"t":20.605,"v":0.4},{"t":20.615,"v":-0.2},{"t":20.635,"v":0.2},{"t":20.645,"v":-0.4},{"t":20.655,"v":0.3},{"t":20.675,"v":0.0},{"t":20.685,"v":0.4},{"t":20.695,"v":-0.2},{"t":20.715,"v":0.3},
{"t":20.725,"v":-0.1},{"t":20.735,"v":0.5},{"t":20.755,"v":0.2},{"t":20.765,"v":-0.3},{"t":20.775,"v":0.3},{"t":20.795,"v":0.1},{"t":20.805,"v":0.4},{"t":20.815,"v":-0.4},{"t":20.835,"v":0.2},{"t":20.845,"v":-0.3},
{"t":20.855,"v":0.3},{"t":20.875,"v":-0.2},{"t":20.885,"v":0.5},{"t":20.895,"v":-0.6},{"t":20.915,"v":-1.0},{"t":20.925,"v":-0.4},{"t":20.945,"v":-1.1},{"t":20.955,"v":-0.6},{"t":20.975,"v":-1.2},{"t":20.985,"v":-0.4}
 ]
},
"bounds": "flush",
"spacing": 88,
"vconcat": [
 {
  "width": 863, "height": 160,
  "layer": [
   {"data": {"name": "north"},
    "mark": {"type": "point", "shape": "square", "filled": true, "size": 24, "opacity": 1, "color": "#254498"},
    "encoding": {
     "x": {"field": "t", "type": "quantitative", "scale": {"domain": [18.5, 21], "nice": false, "zero": false}, "axis": {"values": [18.5, 19, 19.5, 20, 20.5, 21], "title": "SWEREF 99 N: 6695994.0422 Diff: -0.0011 Standardosäkerhet: 0.0006"}},
     "y": {"field": "v", "type": "quantitative", "scale": {"domain": [-5, 5], "nice": false}, "axis": {"values": [-5, 0, 5], "title": "North m"}}
    }},
   {"data": {"name": "one"},
    "mark": {"type": "text", "text": "x 10", "align": "left", "baseline": "alphabetic", "dy": -6, "fontSize": 18, "color": "#000"},
    "encoding": {
     "x": {"datum": 18.5, "type": "quantitative", "axis": {"orient": "top", "labels": false, "grid": false, "title": null, "values": [18.5, 19, 19.5, 20, 20.5, 21]}},
     "y": {"datum": 5, "type": "quantitative", "axis": {"orient": "right", "labels": false, "grid": false, "title": null, "values": [-5, 0, 5]}}
    }},
   {"data": {"name": "one"},
    "mark": {"type": "text", "text": "-3", "align": "left", "baseline": "alphabetic", "dx": 37, "dy": -15, "fontSize": 11, "color": "#000"},
    "encoding": {"x": {"datum": 18.5, "type": "quantitative", "axis": null}, "y": {"datum": 5, "type": "quantitative", "axis": null}}},
   {"data": {"name": "one"},
    "mark": {"type": "text", "text": "SSKA.0", "align": "left", "baseline": "alphabetic", "dx": 137, "dy": -24, "fontSize": 20, "color": "#000"},
    "encoding": {"x": {"datum": 18.5, "type": "quantitative", "axis": null}, "y": {"datum": 5, "type": "quantitative", "axis": null}}},
   {"data": {"name": "one"},
    "mark": {"type": "text", "text": "up to 2020-12-31 -- Compared to SKB", "align": "left", "baseline": "alphabetic", "dx": 266, "dy": -24, "fontSize": 20, "color": "#000"},
    "encoding": {"x": {"datum": 18.5, "type": "quantitative", "axis": null}, "y": {"datum": 5, "type": "quantitative", "axis": null}}},
   {"data": {"name": "one"},
    "mark": {"type": "text", "text": "S", "align": "left", "baseline": "alphabetic", "dx": 604, "dy": -18, "fontSize": 15, "color": "#000"},
    "encoding": {"x": {"datum": 18.5, "type": "quantitative", "axis": null}, "y": {"datum": 5, "type": "quantitative", "axis": null}}},
   {"data": {"name": "one"},
    "mark": {"type": "text", "text": "W99.1800E", "align": "left", "baseline": "alphabetic", "dx": 614, "dy": -24, "fontSize": 20, "color": "#000"},
    "encoding": {"x": {"datum": 18.5, "type": "quantitative", "axis": null}, "y": {"datum": 5, "type": "quantitative", "axis": null}}}
  ],
  "resolve": {"axis": {"x": "independent", "y": "independent"}}
 },
 {
  "width": 863, "height": 160,
  "layer": [
   {"data": {"name": "east"},
    "mark": {"type": "point", "shape": "square", "filled": true, "size": 24, "opacity": 1, "color": "#e22024"},
    "encoding": {
     "x": {"field": "t", "type": "quantitative", "scale": {"domain": [18.5, 21], "nice": false, "zero": false}, "axis": {"values": [18.5, 19, 19.5, 20, 20.5, 21], "title": "SWEREF 99 E: \u00a0163591.9687 Diff: -0.0004 Standardosäkerhet: 0.0003"}},
     "y": {"field": "v", "type": "quantitative", "scale": {"domain": [-5, 5], "nice": false}, "axis": {"values": [-5, 0, 5], "title": "East m"}}
    }},
   {"data": {"name": "one"},
    "mark": {"type": "text", "text": "x 10", "align": "left", "baseline": "alphabetic", "dy": -6, "fontSize": 18, "color": "#000"},
    "encoding": {
     "x": {"datum": 18.5, "type": "quantitative", "axis": {"orient": "top", "labels": false, "grid": false, "title": null, "values": [18.5, 19, 19.5, 20, 20.5, 21]}},
     "y": {"datum": 5, "type": "quantitative", "axis": {"orient": "right", "labels": false, "grid": false, "title": null, "values": [-5, 0, 5]}}
    }},
   {"data": {"name": "one"},
    "mark": {"type": "text", "text": "-3", "align": "left", "baseline": "alphabetic", "dx": 37, "dy": -15, "fontSize": 11, "color": "#000"},
    "encoding": {"x": {"datum": 18.5, "type": "quantitative", "axis": null}, "y": {"datum": 5, "type": "quantitative", "axis": null}}}
  ],
  "resolve": {"axis": {"x": "independent", "y": "independent"}}
 },
 {
  "width": 863, "height": 160,
  "layer": [
   {"data": {"name": "up"},
    "mark": {"type": "point", "shape": "square", "filled": true, "size": 24, "opacity": 1, "color": "#5cb034"},
    "encoding": {
     "x": {"field": "t", "type": "quantitative", "scale": {"domain": [18.5, 21], "nice": false, "zero": false}, "axis": {"values": [18.5, 19, 19.5, 20, 20.5, 21], "title": "SWEREF 99 U: \u00a0\u00a040.2109 Diff: -0.0001 Standardosäkerhet: 0.0012"}},
     "y": {"field": "v", "type": "quantitative", "scale": {"domain": [-10, 5], "nice": false}, "axis": {"values": [-10, -5, 0, 5], "title": "Up m"}}
    }},
   {"data": {"name": "one"},
    "mark": {"type": "text", "text": "x 10", "align": "left", "baseline": "alphabetic", "dy": -6, "fontSize": 18, "color": "#000"},
    "encoding": {
     "x": {"datum": 18.5, "type": "quantitative", "axis": {"orient": "top", "labels": false, "grid": false, "title": null, "values": [18.5, 19, 19.5, 20, 20.5, 21]}},
     "y": {"datum": 5, "type": "quantitative", "axis": {"orient": "right", "labels": false, "grid": false, "title": null, "values": [-10, -5, 0, 5]}}
    }},
   {"data": {"name": "one"},
    "mark": {"type": "text", "text": "-3", "align": "left", "baseline": "alphabetic", "dx": 37, "dy": -15, "fontSize": 11, "color": "#000"},
    "encoding": {"x": {"datum": 18.5, "type": "quantitative", "axis": null}, "y": {"datum": 5, "type": "quantitative", "axis": null}}}
  ],
  "resolve": {"axis": {"x": "independent", "y": "independent"}}
 }
]
}
